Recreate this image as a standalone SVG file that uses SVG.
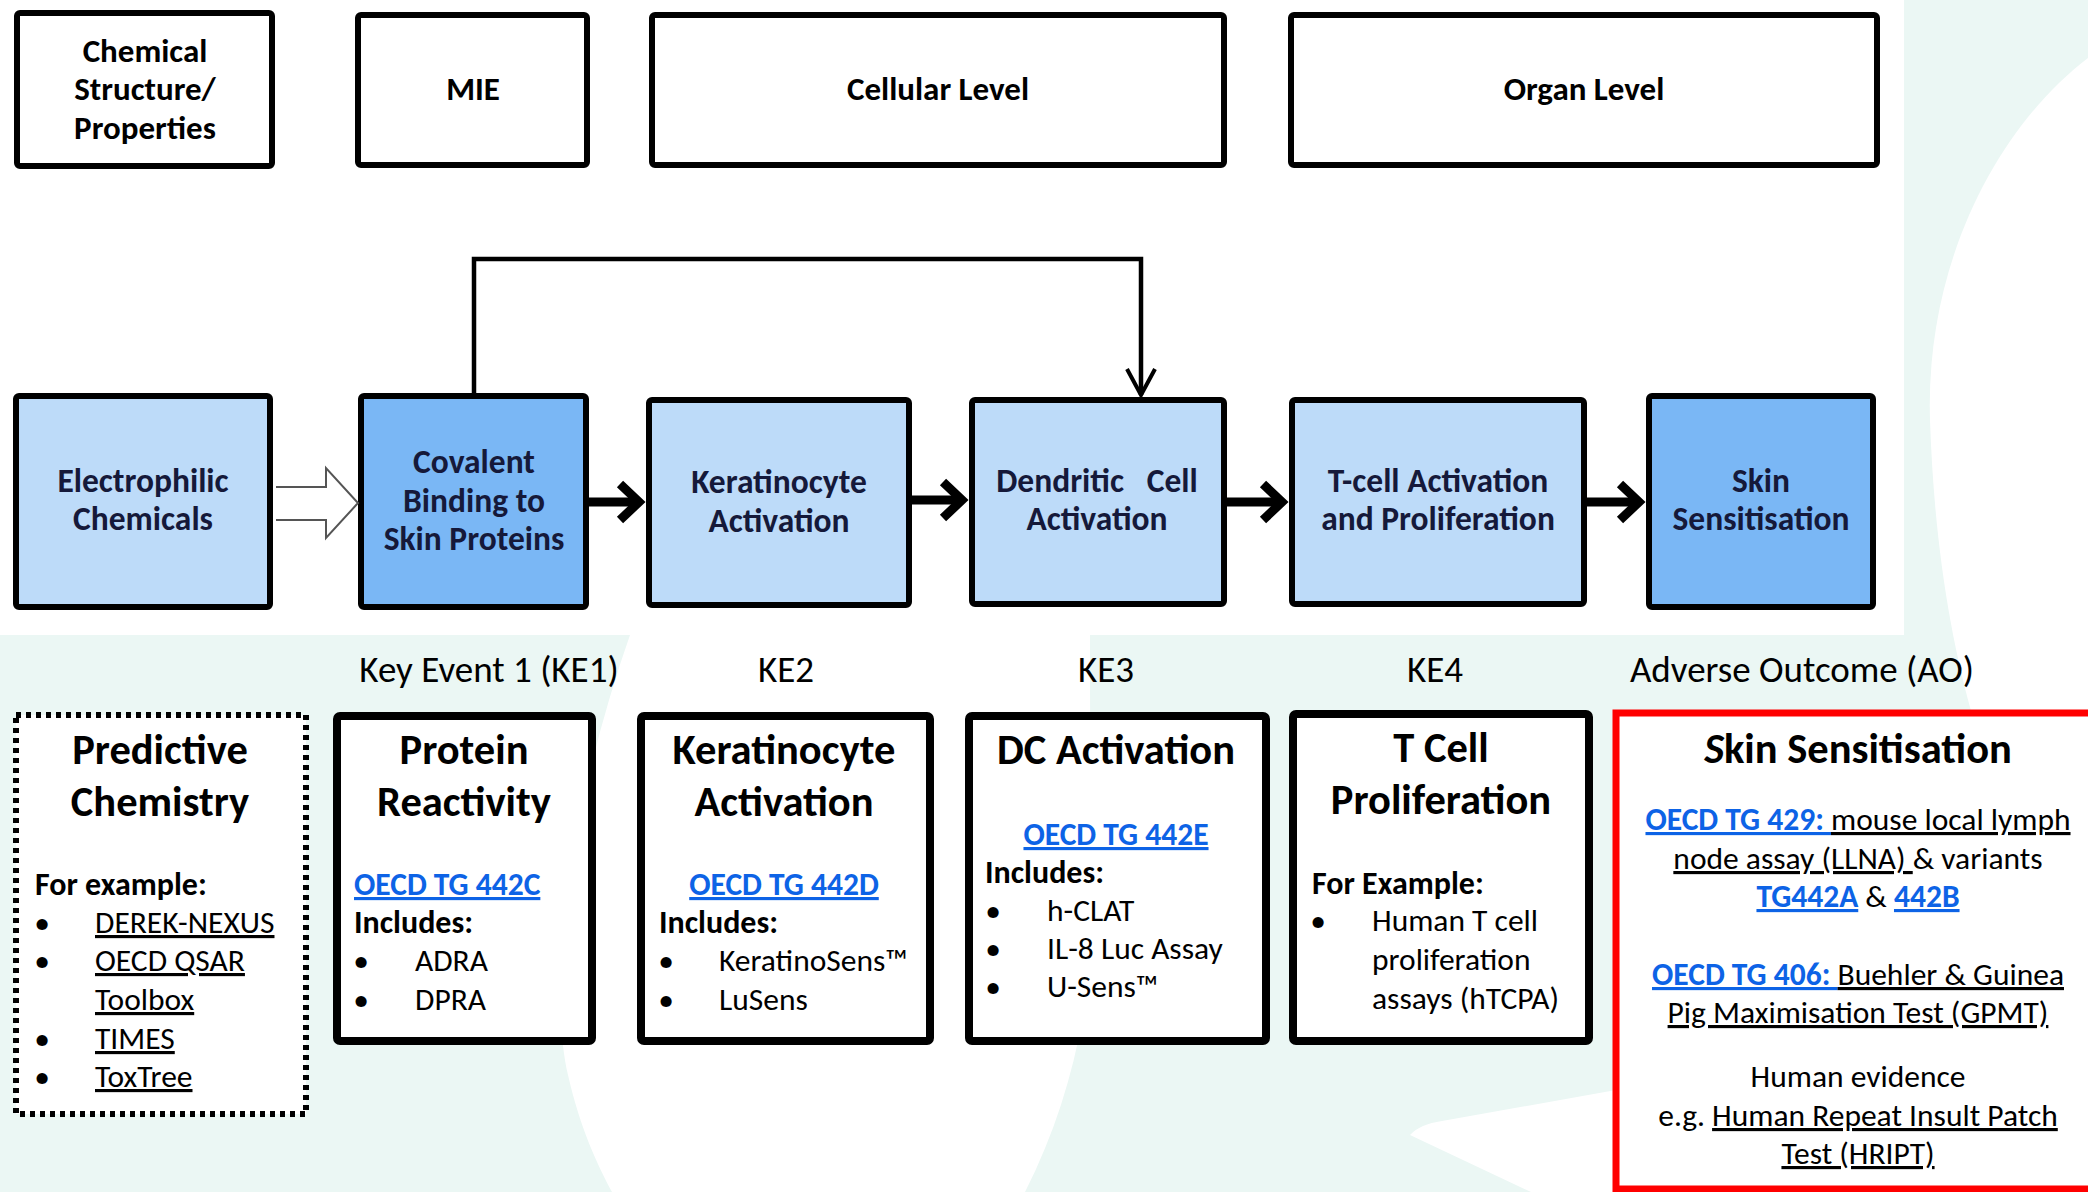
<svg xmlns="http://www.w3.org/2000/svg" width="2088" height="1192" viewBox="0 0 2088 1192">
  <defs>
    <style>
      .lvl { fill: #fff; stroke: #000; stroke-width: 6; }
      .ke { stroke: #000; stroke-width: 6; }
      .light { fill: #bddbf9; }
      .dark { fill: #7ab7f5; }
      .card { fill: #fff; stroke: #000; stroke-width: 8; }
      .dots { fill: #fff; stroke: #000; stroke-width: 6; stroke-dasharray: 5 5; }
      .ao { fill: #fff; stroke: #ff0000; stroke-width: 7; }
      text { font-family: Carlito, Lato, "Open Sans", sans-serif; }
      .h1 { font-size: 33px; font-weight: bold; fill: #000; text-anchor: middle; }
      .h2 { font-size: 33.5px; font-weight: bold; fill: #15193a; text-anchor: middle; }
      .lab { font-size: 37px; fill: #000; text-anchor: middle; }
      .ttl { font-size: 42.5px; font-weight: bold; fill: #000; text-anchor: middle; }
      .b { font-size: 32px; font-weight: bold; fill: #000; }
      .r { font-size: 31.5px; fill: #000; }
      .mid { text-anchor: middle; }
      .u { text-decoration: underline; }
      .lnk { fill: #0d63e6; font-weight: bold; text-decoration: underline; }
      .conn { fill: none; stroke: #000; }
    </style>
    <marker id="chev" markerUnits="userSpaceOnUse" viewBox="0 0 40 44" markerWidth="40" markerHeight="44" refX="28" refY="22" orient="auto">
      <path d="M9 4 L28 22 L9 40" fill="none" stroke="#000" stroke-width="9"/>
    </marker>
    <marker id="vee" markerUnits="userSpaceOnUse" viewBox="0 0 32 32" markerWidth="32" markerHeight="32" refX="27" refY="16" orient="auto">
      <path d="M1 2 L27 16 L1 30" fill="none" stroke="#000" stroke-width="4"/>
    </marker>
  </defs>

  <!-- slide background -->
  <g id="background">
    <rect x="0" y="0" width="2088" height="1192" fill="#ebf7f4"/>
    <rect x="0" y="0" width="1904" height="635" fill="#fff"/>
    <path d="M2088 58 C2000 125 1925 260 1930 420 C1934 540 1950 640 1975 725 L2088 725 Z" fill="#fff"/>
    <path d="M630 635 C572 800 546 980 568 1075 C580 1128 598 1166 612 1192 L1025 1192 C1082 1080 1098 960 1092 850 C1090 760 1090 690 1090 635 Z" fill="#fff"/>
    <path d="M1410 1135 Q1420 1124 1442 1121 L1616 1090 L1616 1192 L1531 1192 Z" fill="#fff"/>
  </g>

  <!-- level headings -->
  <g id="lvl-chemical">
    <rect class="lvl" x="17" y="13" width="255" height="153" rx="3"/>
    <text class="h1" x="145" y="62">Chemical</text>
    <text class="h1" x="145" y="100">Structure/</text>
    <text class="h1" x="145" y="139">Properties</text>
  </g>
  <g id="lvl-mie">
    <rect class="lvl" x="358" y="15" width="229" height="150" rx="3"/>
    <text class="h1" x="473" y="100">MIE</text>
  </g>
  <g id="lvl-cellular">
    <rect class="lvl" x="652" y="15" width="572" height="150" rx="3"/>
    <text class="h1" x="938" y="100">Cellular Level</text>
  </g>
  <g id="lvl-organ">
    <rect class="lvl" x="1291" y="15" width="586" height="150" rx="3"/>
    <text class="h1" x="1584" y="100">Organ Level</text>
  </g>

  <!-- pathway steps -->
  <g id="step-electrophilic">
    <rect class="ke light" x="16" y="396" width="254" height="211" rx="3"/>
    <text class="h2" x="143" y="492">Electrophilic</text>
    <text class="h2" x="143" y="530">Chemicals</text>
  </g>
  <g id="step-covalent">
    <rect class="ke dark" x="361" y="396" width="225" height="211" rx="3"/>
    <text class="h2" x="474" y="473">Covalent</text>
    <text class="h2" x="474" y="512">Binding to</text>
    <text class="h2" x="474" y="550">Skin Proteins</text>
  </g>
  <g id="step-keratinocyte">
    <rect class="ke light" x="649" y="400" width="260" height="205" rx="3"/>
    <text class="h2" x="779" y="493">Keratinocyte</text>
    <text class="h2" x="779" y="532">Activation</text>
  </g>
  <g id="step-dendritic">
    <rect class="ke light" x="972" y="400" width="252" height="204" rx="3"/>
    <text class="h2" x="1097" y="492" xml:space="preserve">Dendritic   Cell</text>
    <text class="h2" x="1097" y="530">Activation</text>
  </g>
  <g id="step-tcell">
    <rect class="ke light" x="1292" y="400" width="292" height="204" rx="3"/>
    <text class="h2" x="1438" y="492">T-cell Activation</text>
    <text class="h2" x="1438" y="530">and Proliferation</text>
  </g>
  <g id="step-skin">
    <rect class="ke dark" x="1649" y="396" width="224" height="211" rx="3"/>
    <text class="h2" x="1761" y="492">Skin</text>
    <text class="h2" x="1761" y="530">Sensitisation</text>
  </g>

  <!-- connectors -->
  <g id="connectors">
    <path d="M276 487 L326 487 L326 468 L358 503 L326 538 L326 520 L276 520" fill="#fff" stroke="#555" stroke-width="2"/>
    <line class="conn" x1="589" y1="502" x2="639" y2="502" stroke-width="9" marker-end="url(#chev)"/>
    <line class="conn" x1="912" y1="500" x2="962" y2="500" stroke-width="9" marker-end="url(#chev)"/>
    <line class="conn" x1="1227" y1="502" x2="1282" y2="502" stroke-width="9" marker-end="url(#chev)"/>
    <line class="conn" x1="1587" y1="502" x2="1639" y2="502" stroke-width="9" marker-end="url(#chev)"/>
    <polyline class="conn" points="474,393 474,259 1141,259 1141,395" stroke-width="4.5" marker-end="url(#vee)"/>
  </g>

  <!-- event labels -->
  <g id="event-labels">
    <text class="lab" x="489" y="682">Key Event 1 (KE1)</text>
    <text class="lab" x="786" y="682">KE2</text>
    <text class="lab" x="1106" y="682">KE3</text>
    <text class="lab" x="1435" y="682">KE4</text>
    <text class="lab" x="1802" y="682">Adverse Outcome (AO)</text>
  </g>

  <!-- assay cards -->
  <g id="card-predictive">
    <rect class="dots" x="16" y="715" width="290" height="399"/>
    <text class="ttl" x="160" y="764">Predictive</text>
    <text class="ttl" x="160" y="816">Chemistry</text>
    <text class="b" x="35" y="895">For example:</text>
    <text class="r mid" x="42" y="933">•</text>
    <text class="r u" x="95" y="933">DEREK-NEXUS</text>
    <text class="r mid" x="42" y="971">•</text>
    <text class="r u" x="95" y="971">OECD QSAR</text>
    <text class="r u" x="95" y="1010">Toolbox</text>
    <text class="r mid" x="42" y="1049">•</text>
    <text class="r u" x="95" y="1049">TIMES</text>
    <text class="r mid" x="42" y="1087">•</text>
    <text class="r u" x="95" y="1087">ToxTree</text>
  </g>
  <g id="card-protein">
    <rect class="card" x="337" y="716" width="255" height="325" rx="3"/>
    <text class="ttl" x="464" y="764">Protein</text>
    <text class="ttl" x="464" y="816">Reactivity</text>
    <text class="r lnk" x="354" y="895">OECD TG 442C</text>
    <text class="b" x="354" y="933">Includes:</text>
    <text class="r mid" x="361" y="971">•</text>
    <text class="r" x="415" y="971">ADRA</text>
    <text class="r mid" x="361" y="1010">•</text>
    <text class="r" x="415" y="1010">DPRA</text>
  </g>
  <g id="card-keratinocyte">
    <rect class="card" x="641" y="716" width="289" height="325" rx="3"/>
    <text class="ttl" x="784" y="764">Keratinocyte</text>
    <text class="ttl" x="784" y="816">Activation</text>
    <text class="r lnk mid" x="784" y="895">OECD TG 442D</text>
    <text class="b" x="659" y="933">Includes:</text>
    <text class="r mid" x="666" y="971">•</text>
    <text class="r" x="719" y="971">KeratinoSens™</text>
    <text class="r mid" x="666" y="1010">•</text>
    <text class="r" x="719" y="1010">LuSens</text>
  </g>
  <g id="card-dc">
    <rect class="card" x="969" y="716" width="297" height="325" rx="3"/>
    <text class="ttl" x="1116" y="764">DC Activation</text>
    <text class="r lnk mid" x="1116" y="845">OECD TG 442E</text>
    <text class="b" x="985" y="883">Includes:</text>
    <text class="r mid" x="993" y="921">•</text>
    <text class="r" x="1047" y="921">h-CLAT</text>
    <text class="r mid" x="993" y="959">•</text>
    <text class="r" x="1047" y="959">IL-8 Luc Assay</text>
    <text class="r mid" x="993" y="997">•</text>
    <text class="r" x="1047" y="997">U-Sens™</text>
  </g>
  <g id="card-tcell">
    <rect class="card" x="1293" y="714" width="296" height="327" rx="3"/>
    <text class="ttl" x="1441" y="762">T Cell</text>
    <text class="ttl" x="1441" y="814">Proliferation</text>
    <text class="b" x="1312" y="894">For Example:</text>
    <text class="r mid" x="1318" y="931">•</text>
    <text class="r" x="1372" y="931">Human T cell</text>
    <text class="r" x="1372" y="970">proliferation</text>
    <text class="r" x="1372" y="1009">assays (hTCPA)</text>
  </g>
  <g id="card-outcome">
    <rect class="ao" x="1616" y="713" width="480" height="476"/>
    <text class="ttl" x="1858" y="763"><tspan font-style="italic">S</tspan>kin Sensitisation</text>
    <text class="r mid" x="1858" y="830" xml:space="preserve"><tspan class="lnk">OECD TG 429: </tspan><tspan class="u">mouse local lymph</tspan></text>
    <text class="r mid" x="1858" y="869" xml:space="preserve"><tspan class="u">node assay (LLNA) </tspan>&amp; variants</text>
    <text class="r mid" x="1858" y="907" xml:space="preserve"><tspan class="lnk">TG442A</tspan> &amp; <tspan class="lnk">442B</tspan></text>
    <text class="r mid" x="1858" y="985" xml:space="preserve"><tspan class="lnk">OECD TG 406: </tspan><tspan class="u">Buehler &amp; Guinea</tspan></text>
    <text class="r mid u" x="1858" y="1023">Pig Maximisation Test (GPMT)</text>
    <text class="r mid" x="1858" y="1087">Human evidence</text>
    <text class="r mid" x="1858" y="1126" xml:space="preserve">e.g. <tspan class="u">Human Repeat Insult Patch</tspan></text>
    <text class="r mid u" x="1858" y="1164">Test (HRIPT)</text>
  </g>
</svg>
